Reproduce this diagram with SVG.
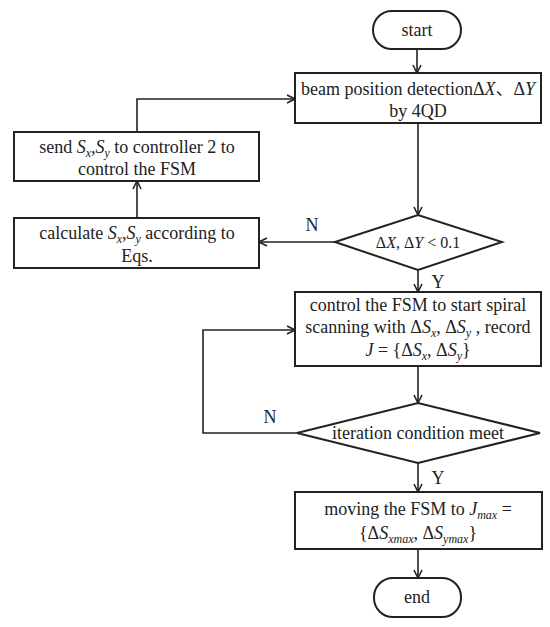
<svg xmlns="http://www.w3.org/2000/svg" width="550" height="627" viewBox="0 0 550 627">
<defs>
<marker id="arr" viewBox="0 0 10 10" refX="9" refY="5" markerWidth="10" markerHeight="10" markerUnits="userSpaceOnUse" orient="auto">
<path d="M1,1 L9,5 L1,9" fill="none" stroke="#222" stroke-width="1.6"/>
</marker>
<style>
.box{fill:#fff;stroke:#222;stroke-width:2}
.ln{fill:none;stroke:#222;stroke-width:1.6}
.t{font-family:"Liberation Serif","Noto Sans CJK SC",serif;font-size:18px;fill:#222;text-anchor:middle}
.lb{font-family:"Liberation Serif",serif;font-size:18px;fill:#222;text-anchor:middle}
.i{font-style:italic}
.s{font-size:12px;font-style:italic}
</style>
</defs>
<rect width="550" height="627" fill="#fff"/>
<g id="connectors">
<line class="ln" x1="417" y1="49" x2="417" y2="73" marker-end="url(#arr)"/>
<line class="ln" x1="418" y1="123" x2="418" y2="215" marker-end="url(#arr)"/>
<line class="ln" x1="335" y1="242" x2="259" y2="242" marker-end="url(#arr)"/>
<line class="ln" x1="137" y1="218" x2="137" y2="181" marker-end="url(#arr)"/>
<polyline class="ln" points="137,132 137,99 295,99" marker-end="url(#arr)"/>
<line class="ln" x1="418" y1="270" x2="418" y2="292" marker-end="url(#arr)"/>
<line class="ln" x1="418" y1="366" x2="418" y2="403" marker-end="url(#arr)"/>
<polyline class="ln" points="297,433 203,433 203,330 295,330" marker-end="url(#arr)"/>
<line class="ln" x1="418" y1="463" x2="418" y2="492" marker-end="url(#arr)"/>
<line class="ln" x1="418" y1="549" x2="418" y2="578" marker-end="url(#arr)"/>
<text class="lb" x="312" y="231">N</text>
<text class="lb" x="438" y="288">Y</text>
<text class="lb" x="270" y="423">N</text>
<text class="lb" x="438" y="484">Y</text>
</g>
<g id="start">
<rect class="box" x="373" y="11" width="88" height="38" rx="19"/>
<text class="t" x="417" y="36">start</text>
</g>
<g id="detect">
<rect class="box" x="295" y="73" width="246" height="50"/>
<text class="t" x="418" y="95">beam position detectionΔ<tspan class="i">X</tspan>、Δ<tspan class="i">Y</tspan></text>
<text class="t" x="418" y="117">by 4QD</text>
</g>
<g id="send">
<rect class="box" x="14" y="132" width="245" height="49"/>
<text class="t" x="137" y="153">send  <tspan class="i">S</tspan><tspan class="s" dy="4">x</tspan><tspan dy="-4">,</tspan><tspan class="i">S</tspan><tspan class="s" dy="4">y</tspan><tspan dy="-4"> to controller 2 to</tspan></text>
<text class="t" x="137" y="175">control the FSM</text>
</g>
<g id="calc">
<rect class="box" x="14" y="218" width="245" height="50"/>
<text class="t" x="137" y="239">calculate <tspan class="i">S</tspan><tspan class="s" dy="4">x</tspan><tspan dy="-4">,</tspan><tspan class="i">S</tspan><tspan class="s" dy="4">y</tspan><tspan dy="-4"> according to</tspan></text>
<text class="t" x="137" y="262">Eqs.</text>
</g>
<g id="cond1">
<polygon class="box" points="335,242 418,215 502,242 418,270"/>
<text class="t" x="418" y="248" style="font-size:16px">Δ<tspan class="i">X</tspan>, Δ<tspan class="i">Y</tspan> &lt; 0.1</text>
</g>
<g id="scan">
<rect class="box" x="295" y="292" width="246" height="74"/>
<text class="t" x="418" y="311">control the FSM to start spiral</text>
<text class="t" x="418" y="333">scanning with Δ<tspan class="i">S</tspan><tspan class="s" dy="4">x</tspan><tspan dy="-4">, Δ</tspan><tspan class="i">S</tspan><tspan class="s" dy="4">y</tspan><tspan dy="-4"> , record</tspan></text>
<text class="t" x="418" y="356"><tspan class="i">J</tspan> = {Δ<tspan class="i">S</tspan><tspan class="s" dy="4">x</tspan><tspan dy="-4">, Δ</tspan><tspan class="i">S</tspan><tspan class="s" dy="4">y</tspan><tspan dy="-4">}</tspan></text>
</g>
<g id="cond2">
<polygon class="box" points="297,433 418,403 540,433 418,463"/>
<text class="t" x="418" y="439">iteration condition meet</text>
</g>
<g id="move">
<rect class="box" x="295" y="492" width="247" height="57"/>
<text class="t" x="418" y="515">moving the FSM to <tspan class="i">J</tspan><tspan class="s" dy="4">max</tspan><tspan dy="-4"> =</tspan></text>
<text class="t" x="418" y="539">{Δ<tspan class="i">S</tspan><tspan class="s" dy="4">xmax</tspan><tspan dy="-4">, Δ</tspan><tspan class="i">S</tspan><tspan class="s" dy="4">ymax</tspan><tspan dy="-4">}</tspan></text>
</g>
<g id="end">
<rect class="box" x="374" y="578" width="87" height="39" rx="19"/>
<text class="t" x="417" y="603">end</text>
</g>
</svg>
